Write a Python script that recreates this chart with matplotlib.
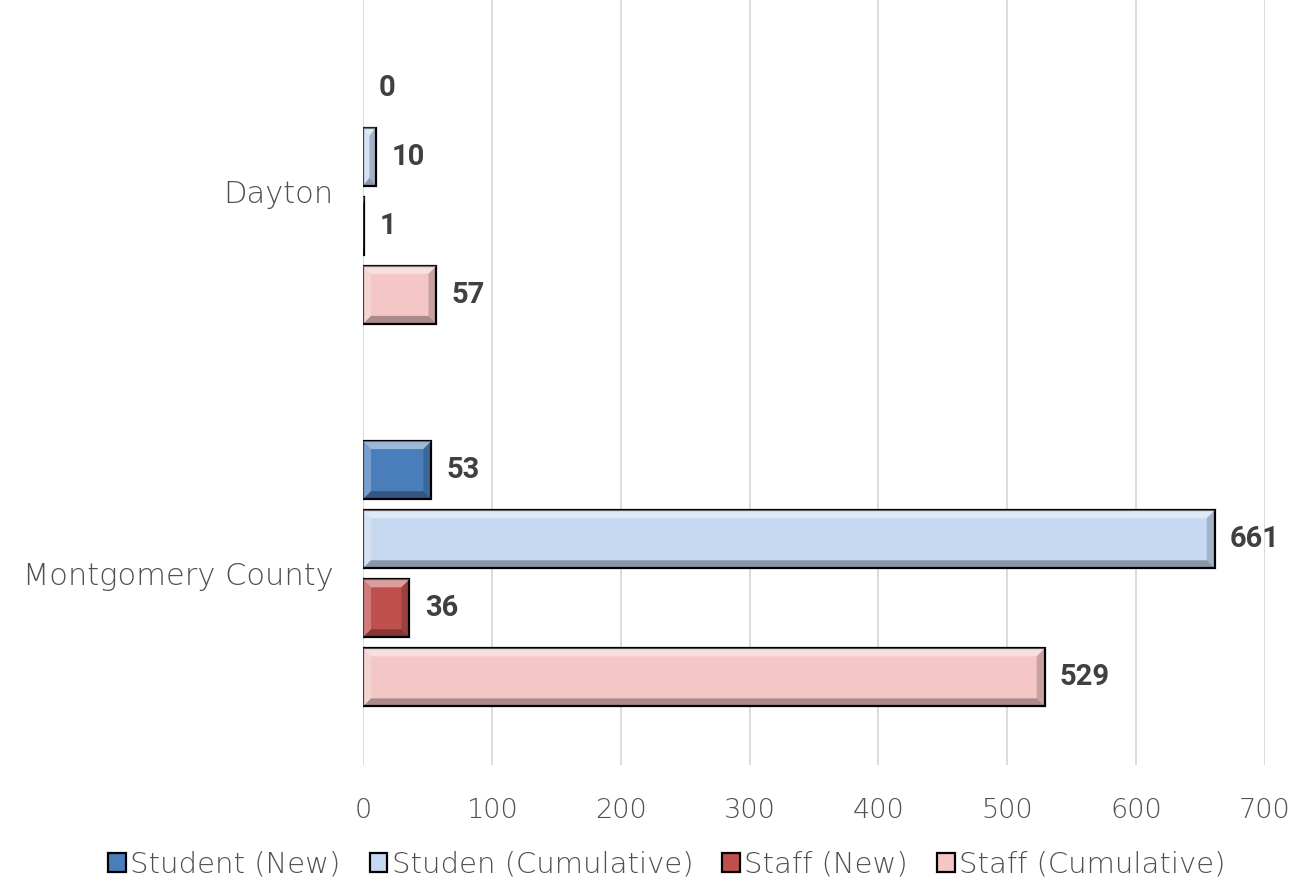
import matplotlib
matplotlib.use("Agg")
import matplotlib.pyplot as plt
from matplotlib.patches import Polygon, Rectangle
import numpy as np

categories = ["Dayton", "Montgomery County"]
series_names = ["Student (New)", "Studen (Cumulative)", "Staff (New)", "Staff (Cumulative)"]
student_new = [0, 53]
student_cum = [10, 661]
staff_new = [1, 36]
staff_cum = [57, 529]
xticks = [0, 100, 200, 300, 400, 500, 600, 700]

colors = ["#4A7EBB", "#C6D9F1", "#C0504D", "#F4C6C6"]
values = [student_new, student_cum, staff_new, staff_cum]

plt.rcParams['font.family'] = ['DejaVu Sans']

fig = plt.figure(figsize=(12.97, 8.93), dpi=100)
ax = fig.add_axes([363/1297, 1 - 765/893, (1265-363)/1297, 765/893])

slot = 69/382
h = 58/382
y = np.arange(len(categories))
ax.set_xlim(0, 700)
ax.set_ylim(1.5, -0.5)

# bevel size in data units (about 8 px)
bx = 8 / ((1265 - 363) / 700)
by = 8 / 382

for k, (vals, c, name) in enumerate(zip(values, colors, series_names)):
    pos = y + (k - 1.5) * slot
    lws = [0 if v == 0 else 1.6 for v in vals]
    ax.barh(pos, vals, height=h, color=c, edgecolor="black", linewidth=lws, zorder=3)
    for p, v in zip(pos, vals):
        if v > 0:
            b = min(bx, v / 2)
            b2 = by
            yt = p - h / 2  # visual top (axis inverted)
            yb = p + h / 2
            top = Polygon([(0, yt), (v, yt), (v - b, yt + b2), (b, yt + b2)], closed=True,
                          facecolor="white", alpha=0.45, edgecolor="none", zorder=3.5)
            left = Polygon([(0, yt), (b, yt + b2), (b, yb - b2), (0, yb)], closed=True,
                           facecolor="white", alpha=0.25, edgecolor="none", zorder=3.5)
            bot = Polygon([(0, yb), (v, yb), (v - b, yb - b2), (b, yb - b2)], closed=True,
                          facecolor="black", alpha=0.3, edgecolor="none", zorder=3.5)
            right = Polygon([(v, yt), (v - b, yt + b2), (v - b, yb - b2), (v, yb)], closed=True,
                            facecolor="black", alpha=0.18, edgecolor="none", zorder=3.5)
            for poly in (top, left, bot, right):
                ax.add_patch(poly)
        ax.annotate(str(v), xy=(v, p), xytext=(11, 0), textcoords="offset points",
                    ha="left", va="center", fontsize=21, fontweight="bold", color="#404040",
                    family=["Roboto", "DejaVu Sans"], zorder=5)

ax.set_xticks(xticks)
ax.set_yticks(y)
ax.set_yticklabels(categories)
ax.tick_params(axis="both", length=0, labelcolor="#505050")
ax.tick_params(axis="x", pad=24, labelsize=19.5)
ax.tick_params(axis="y", pad=21, labelsize=22)
for lab in ax.get_xticklabels() + ax.get_yticklabels():
    lab.set_fontweight("light")
ax.grid(axis="x", color="#D9D9D9", linewidth=1.3, zorder=0)
for s in ax.spines.values():
    s.set_visible(False)

handles = [Rectangle((0, 0), 1, 1, facecolor=c, edgecolor="black", linewidth=1.6) for c in colors]
leg = fig.legend(handles=handles, labels=series_names, loc="center", bbox_to_anchor=(667/1297, 1 - 865/893),
           ncol=4, frameon=False, fontsize=21, handlelength=0.6, handleheight=0.6,
           handletextpad=0.15, columnspacing=1.0, labelcolor="#505050")
for t in leg.get_texts():
    t.set_fontweight("light")

fig.savefig("out.png", dpi=100)
